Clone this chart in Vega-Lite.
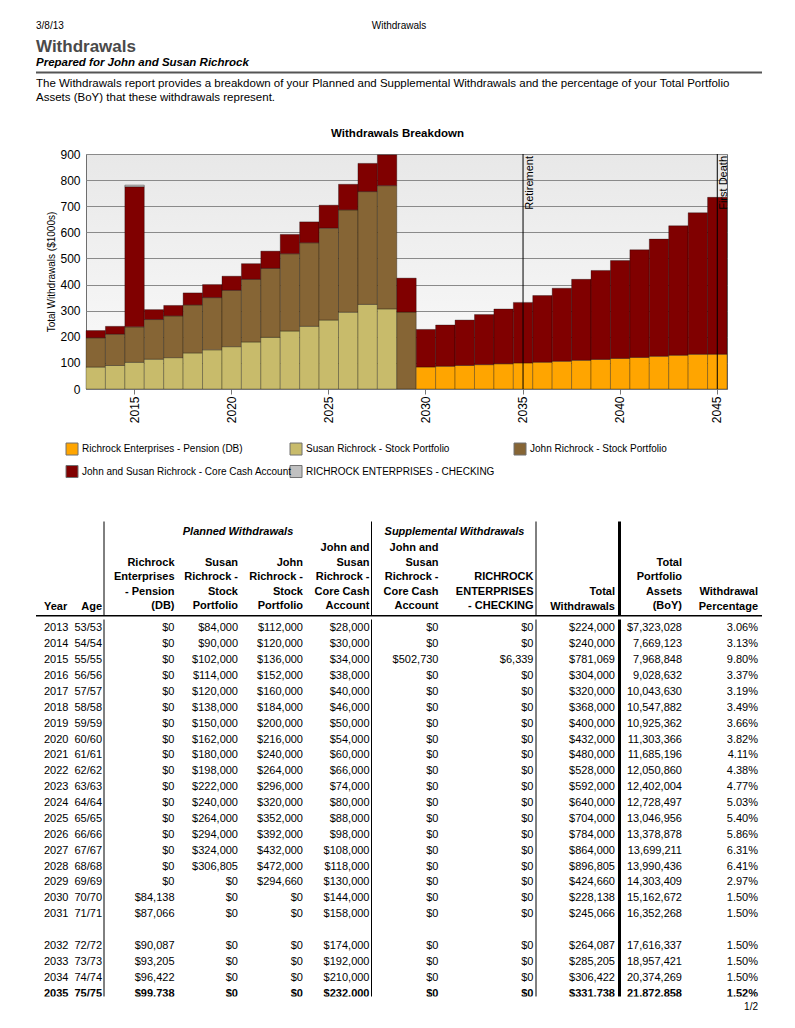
{
  "$schema": "https://vega.github.io/schema/vega-lite/v6.json",
  "padding": {"left": 35, "top": 17, "right": 0, "bottom": 0},
  "spacing": 0,
  "config": {"view": {"stroke": null}, "font": "Liberation Sans"},
  "datasets": {
    "header": [
      {"part": "date", "text": "3/8/13"},
      {"part": "pagename", "text": "Withdrawals"},
      {"part": "title", "text": "Withdrawals"},
      {"part": "subtitle", "text": "Prepared for John and Susan Richrock"},
      {"part": "desc1", "text": "The Withdrawals report provides a breakdown of your Planned and Supplemental Withdrawals and the percentage of your Total Portfolio"},
      {"part": "desc2", "text": "Assets (BoY) that these withdrawals represent."}
    ],
    "series": [
      {"year": 2013, "series": "susan", "value": 84}, {"year": 2013, "series": "john", "value": 112}, {"year": 2013, "series": "core", "value": 28},
      {"year": 2014, "series": "susan", "value": 90}, {"year": 2014, "series": "john", "value": 120}, {"year": 2014, "series": "core", "value": 30},
      {"year": 2015, "series": "susan", "value": 102}, {"year": 2015, "series": "john", "value": 136}, {"year": 2015, "series": "core", "value": 536.73}, {"year": 2015, "series": "checking", "value": 6.339},
      {"year": 2016, "series": "susan", "value": 114}, {"year": 2016, "series": "john", "value": 152}, {"year": 2016, "series": "core", "value": 38},
      {"year": 2017, "series": "susan", "value": 120}, {"year": 2017, "series": "john", "value": 160}, {"year": 2017, "series": "core", "value": 40},
      {"year": 2018, "series": "susan", "value": 138}, {"year": 2018, "series": "john", "value": 184}, {"year": 2018, "series": "core", "value": 46},
      {"year": 2019, "series": "susan", "value": 150}, {"year": 2019, "series": "john", "value": 200}, {"year": 2019, "series": "core", "value": 50},
      {"year": 2020, "series": "susan", "value": 162}, {"year": 2020, "series": "john", "value": 216}, {"year": 2020, "series": "core", "value": 54},
      {"year": 2021, "series": "susan", "value": 180}, {"year": 2021, "series": "john", "value": 240}, {"year": 2021, "series": "core", "value": 60},
      {"year": 2022, "series": "susan", "value": 198}, {"year": 2022, "series": "john", "value": 264}, {"year": 2022, "series": "core", "value": 66},
      {"year": 2023, "series": "susan", "value": 222}, {"year": 2023, "series": "john", "value": 296}, {"year": 2023, "series": "core", "value": 74},
      {"year": 2024, "series": "susan", "value": 240}, {"year": 2024, "series": "john", "value": 320}, {"year": 2024, "series": "core", "value": 80},
      {"year": 2025, "series": "susan", "value": 264}, {"year": 2025, "series": "john", "value": 352}, {"year": 2025, "series": "core", "value": 88},
      {"year": 2026, "series": "susan", "value": 294}, {"year": 2026, "series": "john", "value": 392}, {"year": 2026, "series": "core", "value": 98},
      {"year": 2027, "series": "susan", "value": 324}, {"year": 2027, "series": "john", "value": 432}, {"year": 2027, "series": "core", "value": 108},
      {"year": 2028, "series": "susan", "value": 306.805}, {"year": 2028, "series": "john", "value": 472}, {"year": 2028, "series": "core", "value": 118},
      {"year": 2029, "series": "john", "value": 294.66}, {"year": 2029, "series": "core", "value": 130},
      {"year": 2030, "series": "pension", "value": 84.138}, {"year": 2030, "series": "core", "value": 144},
      {"year": 2031, "series": "pension", "value": 87.066}, {"year": 2031, "series": "core", "value": 158},
      {"year": 2032, "series": "pension", "value": 90.087}, {"year": 2032, "series": "core", "value": 174},
      {"year": 2033, "series": "pension", "value": 93.205}, {"year": 2033, "series": "core", "value": 192},
      {"year": 2034, "series": "pension", "value": 96.422}, {"year": 2034, "series": "core", "value": 210},
      {"year": 2035, "series": "pension", "value": 99.738}, {"year": 2035, "series": "core", "value": 232},
      {"year": 2036, "series": "pension", "value": 102.6}, {"year": 2036, "series": "core", "value": 255.4},
      {"year": 2037, "series": "pension", "value": 106.1}, {"year": 2037, "series": "core", "value": 279.9},
      {"year": 2038, "series": "pension", "value": 109.7}, {"year": 2038, "series": "core", "value": 310.3},
      {"year": 2039, "series": "pension", "value": 113.4}, {"year": 2039, "series": "core", "value": 340.6},
      {"year": 2040, "series": "pension", "value": 117.2}, {"year": 2040, "series": "core", "value": 374.8},
      {"year": 2041, "series": "pension", "value": 121.1}, {"year": 2041, "series": "core", "value": 411.9},
      {"year": 2042, "series": "pension", "value": 125.2}, {"year": 2042, "series": "core", "value": 448.8},
      {"year": 2043, "series": "pension", "value": 129.3}, {"year": 2043, "series": "core", "value": 495.7},
      {"year": 2044, "series": "pension", "value": 132.9}, {"year": 2044, "series": "core", "value": 542.1},
      {"year": 2045, "series": "pension", "value": 133.2}, {"year": 2045, "series": "core", "value": 600.8}
    ],
    "events": [
      {"year": 2035, "label": "Retirement"},
      {"year": 2045, "label": "First Death"}
    ],
    "legend": [
      {"key": "pension", "label": "Richrock Enterprises - Pension (DB)"},
      {"key": "susan", "label": "Susan Richrock - Stock Portfolio"},
      {"key": "john", "label": "John Richrock - Stock Portfolio"},
      {"key": "core", "label": "John and Susan Richrock - Core Cash Account"},
      {"key": "checking", "label": "RICHROCK ENTERPRISES - CHECKING"}
    ],
    "colheads": [
      {"key": "year", "text": "Year"},
      {"key": "age", "text": "Age"},
      {"key": "pension", "text": "Richrock\nEnterprises\n- Pension\n(DB)"},
      {"key": "susan", "text": "Susan\nRichrock -\nStock\nPortfolio"},
      {"key": "john", "text": "John\nRichrock -\nStock\nPortfolio"},
      {"key": "core", "text": "John and\nSusan\nRichrock -\nCore Cash\nAccount"},
      {"key": "supp", "text": "John and\nSusan\nRichrock -\nCore Cash\nAccount"},
      {"key": "checking", "text": "RICHROCK\nENTERPRISES\n- CHECKING"},
      {"key": "total", "text": "Total\nWithdrawals"},
      {"key": "assets", "text": "Total\nPortfolio\nAssets\n(BoY)"},
      {"key": "pct", "text": "Withdrawal\nPercentage"}
    ],
    "groups": [
      {"key": "planned", "text": "Planned Withdrawals"},
      {"key": "supplemental", "text": "Supplemental Withdrawals"}
    ],
    "table": [
      {"year": 2013, "age": "53/53", "pension": 0, "susan": 84000, "john": 112000, "core": 28000, "supp": 0, "checking": 0, "total": 224000, "assets": 7323028, "pct": 0.0306},
      {"year": 2014, "age": "54/54", "pension": 0, "susan": 90000, "john": 120000, "core": 30000, "supp": 0, "checking": 0, "total": 240000, "assets": 7669123, "pct": 0.0313},
      {"year": 2015, "age": "55/55", "pension": 0, "susan": 102000, "john": 136000, "core": 34000, "supp": 502730, "checking": 6339, "total": 781069, "assets": 7968848, "pct": 0.0980},
      {"year": 2016, "age": "56/56", "pension": 0, "susan": 114000, "john": 152000, "core": 38000, "supp": 0, "checking": 0, "total": 304000, "assets": 9028632, "pct": 0.0337},
      {"year": 2017, "age": "57/57", "pension": 0, "susan": 120000, "john": 160000, "core": 40000, "supp": 0, "checking": 0, "total": 320000, "assets": 10043630, "pct": 0.0319},
      {"year": 2018, "age": "58/58", "pension": 0, "susan": 138000, "john": 184000, "core": 46000, "supp": 0, "checking": 0, "total": 368000, "assets": 10547882, "pct": 0.0349},
      {"year": 2019, "age": "59/59", "pension": 0, "susan": 150000, "john": 200000, "core": 50000, "supp": 0, "checking": 0, "total": 400000, "assets": 10925362, "pct": 0.0366},
      {"year": 2020, "age": "60/60", "pension": 0, "susan": 162000, "john": 216000, "core": 54000, "supp": 0, "checking": 0, "total": 432000, "assets": 11303366, "pct": 0.0382},
      {"year": 2021, "age": "61/61", "pension": 0, "susan": 180000, "john": 240000, "core": 60000, "supp": 0, "checking": 0, "total": 480000, "assets": 11685196, "pct": 0.0411},
      {"year": 2022, "age": "62/62", "pension": 0, "susan": 198000, "john": 264000, "core": 66000, "supp": 0, "checking": 0, "total": 528000, "assets": 12050860, "pct": 0.0438},
      {"year": 2023, "age": "63/63", "pension": 0, "susan": 222000, "john": 296000, "core": 74000, "supp": 0, "checking": 0, "total": 592000, "assets": 12402004, "pct": 0.0477},
      {"year": 2024, "age": "64/64", "pension": 0, "susan": 240000, "john": 320000, "core": 80000, "supp": 0, "checking": 0, "total": 640000, "assets": 12728497, "pct": 0.0503},
      {"year": 2025, "age": "65/65", "pension": 0, "susan": 264000, "john": 352000, "core": 88000, "supp": 0, "checking": 0, "total": 704000, "assets": 13046956, "pct": 0.0540},
      {"year": 2026, "age": "66/66", "pension": 0, "susan": 294000, "john": 392000, "core": 98000, "supp": 0, "checking": 0, "total": 784000, "assets": 13378878, "pct": 0.0586},
      {"year": 2027, "age": "67/67", "pension": 0, "susan": 324000, "john": 432000, "core": 108000, "supp": 0, "checking": 0, "total": 864000, "assets": 13699211, "pct": 0.0631},
      {"year": 2028, "age": "68/68", "pension": 0, "susan": 306805, "john": 472000, "core": 118000, "supp": 0, "checking": 0, "total": 896805, "assets": 13990436, "pct": 0.0641},
      {"year": 2029, "age": "69/69", "pension": 0, "susan": 0, "john": 294660, "core": 130000, "supp": 0, "checking": 0, "total": 424660, "assets": 14303409, "pct": 0.0297},
      {"year": 2030, "age": "70/70", "pension": 84138, "susan": 0, "john": 0, "core": 144000, "supp": 0, "checking": 0, "total": 228138, "assets": 15162672, "pct": 0.0150},
      {"year": 2031, "age": "71/71", "pension": 87066, "susan": 0, "john": 0, "core": 158000, "supp": 0, "checking": 0, "total": 245066, "assets": 16352268, "pct": 0.0150},
      {"year": 2032, "age": "72/72", "pension": 90087, "susan": 0, "john": 0, "core": 174000, "supp": 0, "checking": 0, "total": 264087, "assets": 17616337, "pct": 0.0150},
      {"year": 2033, "age": "73/73", "pension": 93205, "susan": 0, "john": 0, "core": 192000, "supp": 0, "checking": 0, "total": 285205, "assets": 18957421, "pct": 0.0150},
      {"year": 2034, "age": "74/74", "pension": 96422, "susan": 0, "john": 0, "core": 210000, "supp": 0, "checking": 0, "total": 306422, "assets": 20374269, "pct": 0.0150},
      {"year": 2035, "age": "75/75", "pension": 99738, "susan": 0, "john": 0, "core": 232000, "supp": 0, "checking": 0, "total": 331738, "assets": 21872858, "pct": 0.0152}
    ]
  },
  "vconcat": [
    {
      "width": 726,
      "height": 110,
      "data": {"name": "header"},
      "layer": [
        {
          "transform": [{"filter": "datum.part == 'date'"}],
          "mark": {"type": "text", "align": "left", "baseline": "middle", "fontSize": 10, "color": "#000"},
          "encoding": {
            "x": {"datum": "left", "type": "nominal", "scale": {"type": "point", "domain": ["left", "center", "right"], "padding": 0}, "axis": null},
            "y": {"datum": "top", "type": "nominal", "scale": {"type": "band", "domain": ["top", "title", "subtitle", "desc1", "desc2"], "paddingInner": 0, "paddingOuter": 0.556, "align": 0}, "axis": null},
            "text": {"field": "text"}
          }
        },
        {
          "transform": [{"filter": "datum.part == 'pagename'"}],
          "mark": {"type": "text", "align": "center", "baseline": "middle", "fontSize": 10, "color": "#000"},
          "encoding": {
            "x": {"datum": "center", "type": "nominal"},
            "y": {"datum": "top", "type": "nominal"},
            "text": {"field": "text"}
          }
        },
        {
          "transform": [{"filter": "datum.part == 'title'"}],
          "mark": {"type": "text", "align": "left", "baseline": "middle", "fontSize": 17, "fontWeight": "bold", "color": "#4a4a4a", "dy": 3},
          "encoding": {
            "x": {"datum": "left", "type": "nominal"},
            "y": {"datum": "title", "type": "nominal"},
            "text": {"field": "text"}
          }
        },
        {
          "transform": [{"filter": "datum.part == 'subtitle'"}],
          "mark": {"type": "text", "align": "left", "baseline": "middle", "fontSize": 11.5, "fontWeight": "bold", "fontStyle": "italic", "color": "#000", "dy": 1},
          "encoding": {
            "x": {"datum": "left", "type": "nominal"},
            "y": {"datum": "subtitle", "type": "nominal"},
            "text": {"field": "text"}
          }
        },
        {
          "transform": [{"filter": "datum.part == 'subtitle'"}],
          "mark": {"type": "rule", "color": "#555", "strokeWidth": 2, "yOffset": 1.5},
          "encoding": {
            "x": {"datum": "left", "type": "nominal"},
            "x2": {"datum": "right"},
            "y": {"datum": "subtitle", "type": "nominal", "bandPosition": 1}
          }
        },
        {
          "transform": [{"filter": "datum.part == 'desc1'"}],
          "mark": {"type": "text", "align": "left", "baseline": "middle", "fontSize": 11.5, "color": "#000", "dy": 4},
          "encoding": {
            "x": {"datum": "left", "type": "nominal"},
            "y": {"datum": "desc1", "type": "nominal"},
            "text": {"field": "text"}
          }
        },
        {
          "transform": [{"filter": "datum.part == 'desc2'"}],
          "mark": {"type": "text", "align": "left", "baseline": "middle", "fontSize": 11.5, "color": "#000"},
          "encoding": {
            "x": {"datum": "left", "type": "nominal"},
            "y": {"datum": "desc2", "type": "nominal"},
            "text": {"field": "text"}
          }
        }
      ]
    },
    {
      "spacing": 0,
      "hconcat": [
        {"width": 10, "height": 10, "data": {"values": []}, "mark": "text"},
        {
          "width": 641,
          "height": 235,
          "title": {"text": "Withdrawals Breakdown", "fontSize": 11.5, "fontWeight": "bold", "color": "#000", "offset": 9, "anchor": "middle", "dx": -9},
          "view": {"stroke": "#6e6e6e", "strokeWidth": 1, "fill": {"gradient": "linear", "x1": 0, "y1": 0, "x2": 0, "y2": 1, "stops": [{"offset": 0, "color": "#e8e8e8"}, {"offset": 1, "color": "#fbfbfb"}]}},
          "layer": [
            {
              "data": {"name": "series"},
              "transform": [{"calculate": "indexof(['pension','susan','john','core','checking'], datum.series)", "as": "ord"}],
              "mark": {"type": "bar", "stroke": "#000", "strokeOpacity": 0.3, "strokeWidth": 1},
              "encoding": {
                "x": {"field": "year", "type": "ordinal", "scale": {"paddingInner": 0, "paddingOuter": 0},
                  "axis": {"title": null, "values": [2015, 2020, 2025, 2030, 2035, 2040, 2045], "labelAngle": 270, "labelFontSize": 12, "labelColor": "#000", "tickSize": 5, "tickColor": "#777", "domain": false, "grid": false, "labelPadding": 2}},
                "y": {"field": "value", "type": "quantitative", "stack": "zero", "scale": {"domain": [0, 900], "nice": false},
                  "axis": {"title": "Total Withdrawals ($1000s)", "titleFontSize": 10, "titleFontWeight": "normal", "titleColor": "#000", "titlePadding": 3, "labelFontSize": 12, "labelColor": "#000", "labelPadding": 6, "labelOverlap": false, "labelFlush": false, "ticks": false, "domain": false, "grid": true, "gridColor": "#8a8a8a", "gridOpacity": 1, "tickCount": 12, "values": [0, 100, 200, 300, 400, 500, 600, 700, 800, 900]}},
                "color": {"field": "series", "type": "nominal", "scale": {"domain": ["pension", "susan", "john", "core", "checking"], "range": ["#ffa500", "#c8bb6b", "#866535", "#800000", "#c0c0c0"]}, "legend": null},
                "order": {"field": "ord", "type": "quantitative"}
              }
            },
            {
              "data": {"name": "events"},
              "mark": {"type": "rule", "color": "#000", "strokeWidth": 1},
              "encoding": {"x": {"field": "year", "type": "ordinal"}}
            },
            {
              "data": {"name": "events"},
              "mark": {"type": "text", "angle": 270, "align": "right", "baseline": "top", "fontSize": 11, "color": "#000", "dx": -2, "dy": 1},
              "encoding": {
                "x": {"field": "year", "type": "ordinal"},
                "y": {"datum": 900, "type": "quantitative",
                  "axis": {"title": "Total Withdrawals ($1000s)", "titleFontSize": 10, "titleFontWeight": "normal", "titleColor": "#000", "titlePadding": 3, "labelFontSize": 12, "labelColor": "#000", "labelPadding": 6, "labelOverlap": false, "labelFlush": false, "ticks": false, "domain": false, "grid": true, "gridColor": "#8a8a8a", "gridOpacity": 1, "tickCount": 12, "values": [0, 100, 200, 300, 400, 500, 600, 700, 800, 900]}},
                "text": {"field": "label"}
              }
            }
          ]
        }
      ]
    },
    {
      "spacing": 27.5,
      "vconcat": [
        {
          "width": 726,
          "height": 67.5,
          "data": {"name": "legend"},
          "transform": [
            {"calculate": "indexof(['pension','susan','john','core','checking'], datum.key)", "as": "i"},
            {"calculate": "datum.i % 3", "as": "col"},
            {"calculate": "floor(datum.i / 3)", "as": "row"}
          ],
          "encoding": {
            "x": {"field": "col", "type": "ordinal", "bandPosition": 0, "scale": {"type": "band", "domain": [0, 1, 2], "paddingInner": 0, "paddingOuter": 0.1205, "align": 0.556}, "axis": null},
            "y": {"field": "row", "type": "ordinal", "scale": {"type": "point", "domain": [0, 1], "padding": 1, "align": 0.556}, "axis": null}
          },
          "layer": [
            {
              "mark": {"type": "point", "shape": "square", "filled": true, "size": 144, "stroke": "#707070", "strokeWidth": 1, "opacity": 1, "xOffset": 6},
              "encoding": {"color": {"field": "key", "type": "nominal", "scale": {"domain": ["pension", "susan", "john", "core", "checking"], "range": ["#ffa500", "#c8bb6b", "#866535", "#800000", "#c0c0c0"]}, "legend": null}}
            },
            {
              "mark": {"type": "text", "align": "left", "baseline": "middle", "fontSize": 10, "color": "#000", "dx": 16},
              "encoding": {"text": {"field": "label"}}
            }
          ]
        },
        {
          "spacing": 0,
          "vconcat": [
            {
              "width": 726,
              "height": 94,
              "layer": [
                {
                  "data": {"values": [{}]},
                  "mark": {"type": "rule", "color": "#000", "strokeWidth": 1, "xOffset": 2},
                  "encoding": {"x": {"datum": 1, "type": "quantitative", "scale": {"type": "linear", "domain": [-1, 0, 1, 2, 3, 4, 5, 6, 7, 8, 9, 10, 11], "range": [0, 8, 66, 138.5, 202, 267, 333.5, 402.5, 497.5, 579, 646, 722, 726], "zero": false, "nice": false}, "axis": null}}
                },
                {
                  "data": {"values": [{}]},
                  "mark": {"type": "rule", "color": "#000", "strokeWidth": 1, "xOffset": 2},
                  "encoding": {"x": {"datum": 5, "type": "quantitative"}}
                },
                {
                  "data": {"values": [{}]},
                  "mark": {"type": "rule", "color": "#000", "strokeWidth": 1, "xOffset": 2.5},
                  "encoding": {"x": {"datum": 7, "type": "quantitative"}}
                },
                {
                  "data": {"values": [{}]},
                  "mark": {"type": "rule", "color": "#000", "strokeWidth": 3, "xOffset": 4.5},
                  "encoding": {"x": {"datum": 8, "type": "quantitative"}}
                },
                {
                  "data": {"values": [{}]},
                  "mark": {"type": "rule", "color": "#000", "strokeWidth": 1.5, "yOffset": 3},
                  "encoding": {
                    "x": {"datum": -1, "type": "quantitative"},
                    "x2": {"datum": 11},
                    "y": {"datum": "head", "type": "ordinal", "bandPosition": 1, "scale": {"type": "band", "domain": ["group", "h1", "h2", "h3", "h4", "head"], "paddingInner": 0, "paddingOuter": 0.241, "align": 0.607}, "axis": null}
                  }
                },
                {
                  "data": {"name": "groups"},
                  "transform": [{"filter": "datum.key == 'planned'"}],
                  "mark": {"type": "text", "align": "center", "baseline": "middle", "fontSize": 11, "fontWeight": "bold", "fontStyle": "italic", "color": "#000", "dy": -1},
                  "encoding": {"x": {"datum": 3, "type": "quantitative"}, "y": {"datum": "group", "type": "ordinal"}, "text": {"field": "text"}}
                },
                {
                  "data": {"name": "groups"},
                  "transform": [{"filter": "datum.key == 'supplemental'"}],
                  "mark": {"type": "text", "align": "center", "baseline": "middle", "fontSize": 11, "fontWeight": "bold", "fontStyle": "italic", "color": "#000", "dx": 16, "dy": -1},
                  "encoding": {"x": {"datum": 6, "type": "quantitative"}, "y": {"datum": "group", "type": "ordinal"}, "text": {"field": "text"}}
                },
                {
                  "data": {"name": "colheads"},
                  "transform": [{"filter": "datum.key == 'year'"}],
                  "mark": {"type": "text", "align": "left", "baseline": "middle", "fontSize": 11, "fontWeight": "bold", "color": "#000", "dy": 1},
                  "encoding": {"x": {"datum": 0, "type": "quantitative"}, "y": {"datum": "head", "type": "ordinal"}, "text": {"field": "text"}}
                },
                {
                  "data": {"name": "colheads"},
                  "transform": [
                    {"filter": "datum.key != 'year'"},
                    {"calculate": "indexof(['year','age','pension','susan','john','core','supp','checking','total','assets','pct'], datum.key)", "as": "idx"},
                    {"calculate": "['head','h4','h3','h2','h1'][length(split(datum.text, '\\n')) - 1]", "as": "slot"}
                  ],
                  "mark": {"type": "text", "align": "right", "baseline": "middle", "fontSize": 11, "fontWeight": "bold", "color": "#000", "lineBreak": "\n", "lineHeight": 14.5, "dy": 1},
                  "encoding": {"x": {"field": "idx", "type": "quantitative"}, "y": {"field": "slot", "type": "ordinal"}, "text": {"field": "text"}}
                }
              ]
            },
            {
              "width": 726,
              "height": 377,
              "title": {"text": "1/2", "orient": "bottom", "anchor": "end", "fontSize": 10, "fontWeight": "normal", "color": "#000", "offset": 4, "dx": -4},
              "layer": [
                {
                  "data": {"values": [{}]},
                  "mark": {"type": "rule", "color": "#000", "strokeWidth": 1, "xOffset": 2},
                  "encoding": {"x": {"datum": 1, "type": "quantitative", "scale": {"type": "linear", "domain": [-1, 0, 1, 2, 3, 4, 5, 6, 7, 8, 9, 10, 11], "range": [0, 8, 66, 138.5, 202, 267, 333.5, 402.5, 497.5, 579, 646, 722, 726], "zero": false, "nice": false}, "axis": null}}
                },
                {
                  "data": {"values": [{}]},
                  "mark": {"type": "rule", "color": "#000", "strokeWidth": 1, "xOffset": 2},
                  "encoding": {"x": {"datum": 5, "type": "quantitative"}}
                },
                {
                  "data": {"values": [{}]},
                  "mark": {"type": "rule", "color": "#000", "strokeWidth": 1, "xOffset": 2.5},
                  "encoding": {"x": {"datum": 7, "type": "quantitative"}}
                },
                {
                  "data": {"values": [{}]},
                  "mark": {"type": "rule", "color": "#000", "strokeWidth": 3, "xOffset": 4.5},
                  "encoding": {"x": {"datum": 8, "type": "quantitative"}}
                },
                {
                  "data": {"name": "table"},
                  "encoding": {"x": {"datum": 0, "type": "quantitative"}, "y": {"field": "year", "type": "ordinal", "scale": {"type": "point", "domain": [2013, 2014, 2015, 2016, 2017, 2018, 2019, 2020, 2021, 2022, 2023, 2024, 2025, 2026, 2027, 2028, 2029, 2030, 2031, "gap", 2032, 2033, 2034, 2035], "padding": 0.378, "align": 0.75}, "axis": null}, "text": {"field": "year", "type": "nominal"}},
                  "layer": [
                    {"transform": [{"filter": "datum.year != 2035"}], "mark": {"type": "text", "align": "left", "baseline": "middle", "fontSize": 11, "color": "#000"}},
                    {"transform": [{"filter": "datum.year == 2035"}], "mark": {"type": "text", "align": "left", "baseline": "middle", "fontSize": 11, "fontWeight": "bold", "color": "#000", "clip": true}}
                  ]
                },
                {
                  "data": {"name": "table"},
                  "encoding": {"x": {"datum": 1, "type": "quantitative"}, "y": {"field": "year", "type": "ordinal"}, "text": {"field": "age", "type": "nominal"}},
                  "layer": [
                    {"transform": [{"filter": "datum.year != 2035"}], "mark": {"type": "text", "align": "right", "baseline": "middle", "fontSize": 11, "color": "#000"}},
                    {"transform": [{"filter": "datum.year == 2035"}], "mark": {"type": "text", "align": "right", "baseline": "middle", "fontSize": 11, "fontWeight": "bold", "color": "#000", "clip": true}}
                  ]
                },
                {
                  "data": {"name": "table"},
                  "transform": [
                    {"fold": ["pension", "susan", "john", "core", "supp", "checking", "total"], "as": ["key", "value"]},
                    {"calculate": "indexof(['year','age','pension','susan','john','core','supp','checking','total','assets','pct'], datum.key)", "as": "idx"}
                  ],
                  "encoding": {"x": {"field": "idx", "type": "quantitative"}, "y": {"field": "year", "type": "ordinal"}, "text": {"field": "value", "type": "quantitative", "format": "$,.0f"}},
                  "layer": [
                    {"transform": [{"filter": "datum.year != 2035"}], "mark": {"type": "text", "align": "right", "baseline": "middle", "fontSize": 11, "color": "#000"}},
                    {"transform": [{"filter": "datum.year == 2035"}], "mark": {"type": "text", "align": "right", "baseline": "middle", "fontSize": 11, "fontWeight": "bold", "color": "#000", "clip": true}}
                  ]
                },
                {
                  "data": {"name": "table"},
                  "encoding": {"x": {"datum": 9, "type": "quantitative"}, "y": {"field": "year", "type": "ordinal"},
                    "text": {"condition": {"test": "datum.year == 2013", "field": "assets", "type": "quantitative", "format": "$,.0f"}, "field": "assets", "type": "quantitative", "format": ",.0f"}},
                  "layer": [
                    {"transform": [{"filter": "datum.year != 2035"}], "mark": {"type": "text", "align": "right", "baseline": "middle", "fontSize": 11, "color": "#000"}},
                    {"transform": [{"filter": "datum.year == 2035"}], "mark": {"type": "text", "align": "right", "baseline": "middle", "fontSize": 11, "fontWeight": "bold", "color": "#000", "clip": true}}
                  ]
                },
                {
                  "data": {"name": "table"},
                  "encoding": {"x": {"datum": 10, "type": "quantitative"}, "y": {"field": "year", "type": "ordinal"}, "text": {"field": "pct", "type": "quantitative", "format": ".2%"}},
                  "layer": [
                    {"transform": [{"filter": "datum.year != 2035"}], "mark": {"type": "text", "align": "right", "baseline": "middle", "fontSize": 11, "color": "#000"}},
                    {"transform": [{"filter": "datum.year == 2035"}], "mark": {"type": "text", "align": "right", "baseline": "middle", "fontSize": 11, "fontWeight": "bold", "color": "#000", "clip": true}}
                  ]
                }
              ]
            }
          ]
        }
      ]
    }
  ]
}
